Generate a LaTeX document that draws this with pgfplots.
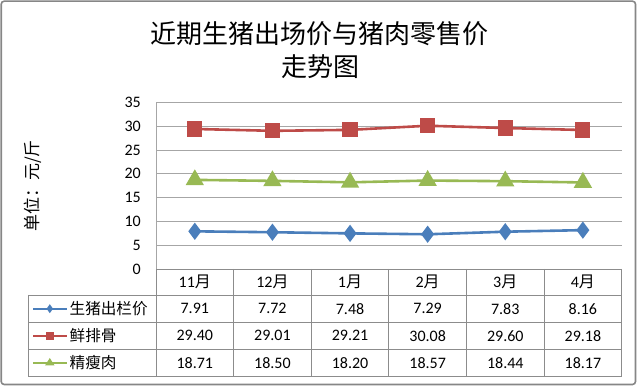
\documentclass[border=0pt]{standalone}
\usepackage{pgfplots}
\pgfplotsset{compat=1.18}
\usepackage{fontspec}
\setmainfont{Carlito}
\newfontfamily\cjk{Noto Sans CJK SC}
\definecolor{sblue}{HTML}{4A7EBB}
\definecolor{sred}{HTML}{BE4B48}
\definecolor{sgreen}{HTML}{98B954}
\definecolor{gridc}{HTML}{A6A6A6}
\definecolor{tabc}{HTML}{8C8C8C}
\definecolor{framec}{HTML}{868686}
\newcommand\yue{{\cjk 月}}
\begin{document}
\begin{tikzpicture}
\useasboundingbox (0,0) rectangle (640bp,386bp);
\draw[framec, line width=1.6bp, rounded corners=3bp] (1.2bp,1.5bp) rectangle (635.5bp,384.8bp);
\begin{axis}[
  at={(156bp,117bp)}, anchor=south west,
  scale only axis, width=465.7bp, height=166.7bp,
  xmin=0, xmax=6, ymin=0, ymax=35,
  ytick={0,5,...,35},
  xtick=\empty,
  axis lines=left,
  axis line style={draw=gridc, line width=0.8bp, -},
  ymajorgrids,
  grid style={gridc, line width=0.8bp},
  major tick length=0pt,
  tick label style={font=\fontsize{16bp}{18bp}\selectfont},
  yticklabel style={inner sep=0pt, xshift=-15bp},
  /pgf/number format/assume math mode=true,
  clip=false,
]
\addplot[sblue, line width=2.6bp, mark=diamond*, mark size=6.5bp, mark options={solid, fill=sblue}]
  coordinates {(0.5,7.91)(1.5,7.72)(2.5,7.48)(3.5,7.29)(4.5,7.83)(5.5,8.16)};
\addplot[sred, line width=2.6bp, mark=square*, mark size=6.3bp, mark options={solid, fill=sred}]
  coordinates {(0.5,29.40)(1.5,29.01)(2.5,29.21)(3.5,30.08)(4.5,29.60)(5.5,29.18)};
\addplot[sgreen, line width=2.6bp, mark=triangle*, mark size=8bp, mark options={solid, fill=sgreen}]
  coordinates {(0.5,18.71)(1.5,18.50)(2.5,18.20)(3.5,18.57)(4.5,18.44)(5.5,18.17)};
\end{axis}
\begin{scope}[x=1bp, y=1bp]
  % title
  \node[font=\cjk\fontsize{26bp}{30bp}\selectfont] at (320,352) {近期生猪出场价与猪肉零售价};
  \node[font=\cjk\fontsize{26bp}{30bp}\selectfont] at (320,319) {走势图};
  % y label
  \node[rotate=90, font=\cjk\fontsize{17bp}{19bp}\selectfont] at (33,200) {单位：元/斤};
  % table lines
  \begin{scope}[tabc, line width=0.8bp]
    \draw (156,117) -- (621.7,117);
    \foreach \yy in {91,63.7,36.7,9.3} \draw (28.7,\yy) -- (621.7,\yy);
    \draw (28.7,91) -- (28.7,9.3);
    \foreach \k in {0,...,6} \draw ({156+77.617*\k},117) -- ({156+77.617*\k},9.3);
  \end{scope}
  \begin{scope}[font=\fontsize{16bp}{18bp}\selectfont]
    \foreach \t [count=\i from 0] in {11,12,1,2,3,4}
      \node at ({156+77.617*(\i+0.5)},104) {\t\yue};
    \foreach \v [count=\i from 0] in {7.91,7.72,7.48,7.29,7.83,8.16}
      \node at ({156+77.617*(\i+0.5)},77.3) {\v};
    \foreach \v [count=\i from 0] in {29.40,29.01,29.21,30.08,29.60,29.18}
      \node at ({156+77.617*(\i+0.5)},50.2) {\v};
    \foreach \v [count=\i from 0] in {18.71,18.50,18.20,18.57,18.44,18.17}
      \node at ({156+77.617*(\i+0.5)},23) {\v};
  \end{scope}
  % legend keys
  \draw[sblue, line width=2.2bp] (33,77.3) -- (66.7,77.3);
  \fill[sblue] (49.8,81.8) -- (53,77.3) -- (49.8,72.8) -- (46.6,77.3) -- cycle;
  \draw[sred, line width=2.2bp] (33,50.2) -- (66.7,50.2);
  \fill[sred] (45.8,46.2) rectangle (53.8,54.2);
  \draw[sgreen, line width=2.2bp] (33,23) -- (66.7,23);
  \fill[sgreen] (49.8,28) -- (54.6,20.5) -- (45,20.5) -- cycle;
  \begin{scope}[font=\cjk\fontsize{15.6bp}{18bp}\selectfont]
    \node[anchor=west, inner sep=0pt] at (69.5,77.3) {生猪出栏价};
    \node[anchor=west, inner sep=0pt] at (69.5,50.2) {鲜排骨};
    \node[anchor=west, inner sep=0pt] at (69.5,23) {精瘦肉};
  \end{scope}
\end{scope}
\end{tikzpicture}
\end{document}
